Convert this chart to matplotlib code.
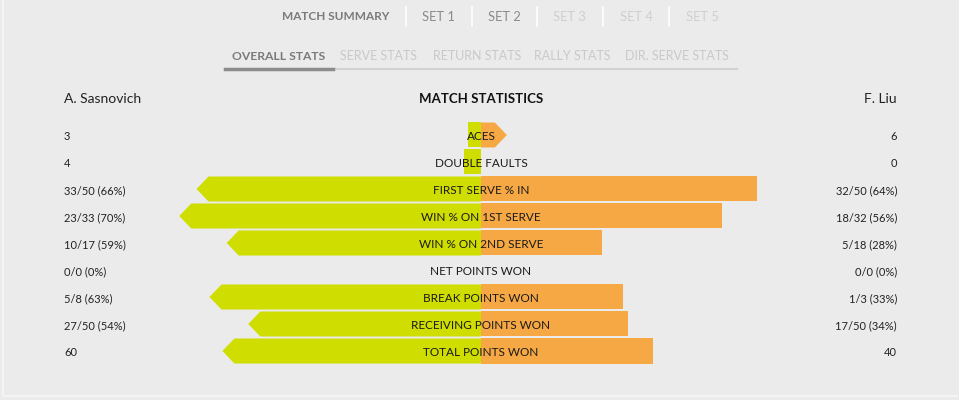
import matplotlib.pyplot as plt
from matplotlib.patches import Polygon
from matplotlib.lines import Line2D

W, H = 959, 400

top_tabs = ["MATCH SUMMARY", "SET 1", "SET 2", "SET 3", "SET 4", "SET 5"]
sub_tabs = ["OVERALL STATS", "SERVE STATS", "RETURN STATS", "RALLY STATS", "DIR. SERVE STATS"]

player_left = "A. Sasnovich"
player_right = "F. Liu"

stats = ["ACES", "DOUBLE FAULTS", "FIRST SERVE % IN", "WIN % ON 1ST SERVE",
         "WIN % ON 2ND SERVE", "NET POINTS WON", "BREAK POINTS WON",
         "RECEIVING POINTS WON", "TOTAL POINTS WON"]
left_text = ["3", "4", "33/50 (66%)", "23/33 (70%)", "10/17 (59%)", "0/0 (0%)",
             "5/8 (63%)", "27/50 (54%)", "60"]
right_text = ["6", "0", "32/50 (64%)", "18/32 (56%)", "5/18 (28%)", "0/0 (0%)",
              "1/3 (33%)", "17/50 (34%)", "40"]
left_vals = [3, 4, 66, 70, 59, 0, 63, 54, 60]
right_vals = [6, 0, 64, 56, 28, 0, 33, 34, 40]
# which side gets the arrow head ("L", "R" or None)
winner = ["R", None, "L", "L", "L", None, "L", "L", "L"]

GREEN = "#cfdd00"
ORANGE = "#f5a843"
BG = "#ebebeb"

plt.rcParams['font.family'] = ['Lato', 'DejaVu Sans']

fig = plt.figure(figsize=(W / 100, H / 100), dpi=100)
fig.patch.set_facecolor(BG)

# pixels per unit of the stat scale, centre line, row layout
ppu = 4.31
cx = 481
row0, row_gap = 135, 27

ax = fig.add_axes([0, 0, 1, 1])
ax.set_facecolor(BG)
ax.set_xlim(-cx / ppu, (W - cx) / ppu)
ax.set_ylim((H - row0) / row_gap, -row0 / row_gap)
ax.axis("off")


def px(x, y):
    # pixel -> figure fraction
    return x / W, 1 - y / H


def xunit(x):
    # pixel x -> data x
    return (x - cx) / ppu


# panel edges
fig.add_artist(Line2D([3 / W, 3 / W], [1 - 396 / H, 1], color="#f4f4f4", lw=1.5))
fig.add_artist(Line2D([3 / W, 957 / W], [1 - 396 / H] * 2, color="#f4f4f4", lw=1.5))

# top tabs
tab_x = [336, 438, 504, 569, 636, 702]
tab_col = ["#7a7a7a", "#8a8a8a", "#8a8a8a", "#cfcfcf", "#cfcfcf", "#cfcfcf"]
for i, t in enumerate(top_tabs):
    fig.text(*px(tab_x[i], 17), t, ha="center", va="center",
             fontsize=8.5 if i == 0 else 9.3,
             color=tab_col[i], fontweight="bold" if i == 0 else "normal")
for sx in [406, 472, 537, 603, 669]:
    fig.add_artist(Line2D([sx / W] * 2, [1 - 7 / H, 1 - 26 / H], color="white", lw=1.2))

# sub tabs
sub_x = [279, 379, 477, 572, 677]
for i, t in enumerate(sub_tabs):
    fig.text(*px(sub_x[i], 56), t, ha="center", va="center",
             fontsize=8.7 if i == 0 else 9.0,
             color="#7a7a7a" if i == 0 else "#c9c9c9",
             fontweight="bold" if i == 0 else "normal")
fig.add_artist(Line2D([225 / W, 737 / W], [1 - 69 / H] * 2, color="#d2d2d2", lw=1.5))
fig.add_artist(Line2D([225 / W, 333 / W], [1 - 69 / H] * 2, color="#8c8c8c", lw=2.5))

# header
fig.text(*px(64, 99), player_left, ha="left", va="center", fontsize=10, color="#222")
fig.text(*px(897, 99), player_right, ha="right", va="center", fontsize=10, color="#222")
fig.text(*px(cx, 99), "MATCH STATISTICS", ha="center", va="center", fontsize=9.5,
         fontweight="bold", color="#111")

h = 25 / row_gap
d = 12 / ppu
dy = 1.5 / row_gap
for i, s in enumerate(stats):
    lv, rv = left_vals[i], right_vals[i]
    y0, y1 = i - h / 2, i + h / 2
    if lv > 0:
        if winner[i] == "L":
            pts = [(0, y0), (-lv + d, y0), (-lv, i), (-lv + d, y1), (0, y1)]
        else:
            pts = [(0, y0), (-lv, y0), (-lv, y1), (0, y1)]
        ax.add_patch(Polygon(pts, closed=True, fc=GREEN, ec="none"))
    if rv > 0:
        if winner[i] == "R":
            pts = [(0, y0), (rv - d, y0), (rv, i), (rv - d, y1), (0, y1)]
        else:
            pts = [(0, y0), (rv, y0), (rv, y1), (0, y1)]
        ax.add_patch(Polygon(pts, closed=True, fc=ORANGE, ec="none"))
    ax.text(0, i + dy, s, ha="center", va="center", fontsize=8.5, color="#1a1a1a")
    ax.text(xunit(64), i + dy, left_text[i], ha="left", va="center",
            fontsize=8, color="#222")
    ax.text(xunit(897), i + dy, right_text[i], ha="right", va="center",
            fontsize=8, color="#222")

fig.savefig("out.png", dpi=100, facecolor=BG)
